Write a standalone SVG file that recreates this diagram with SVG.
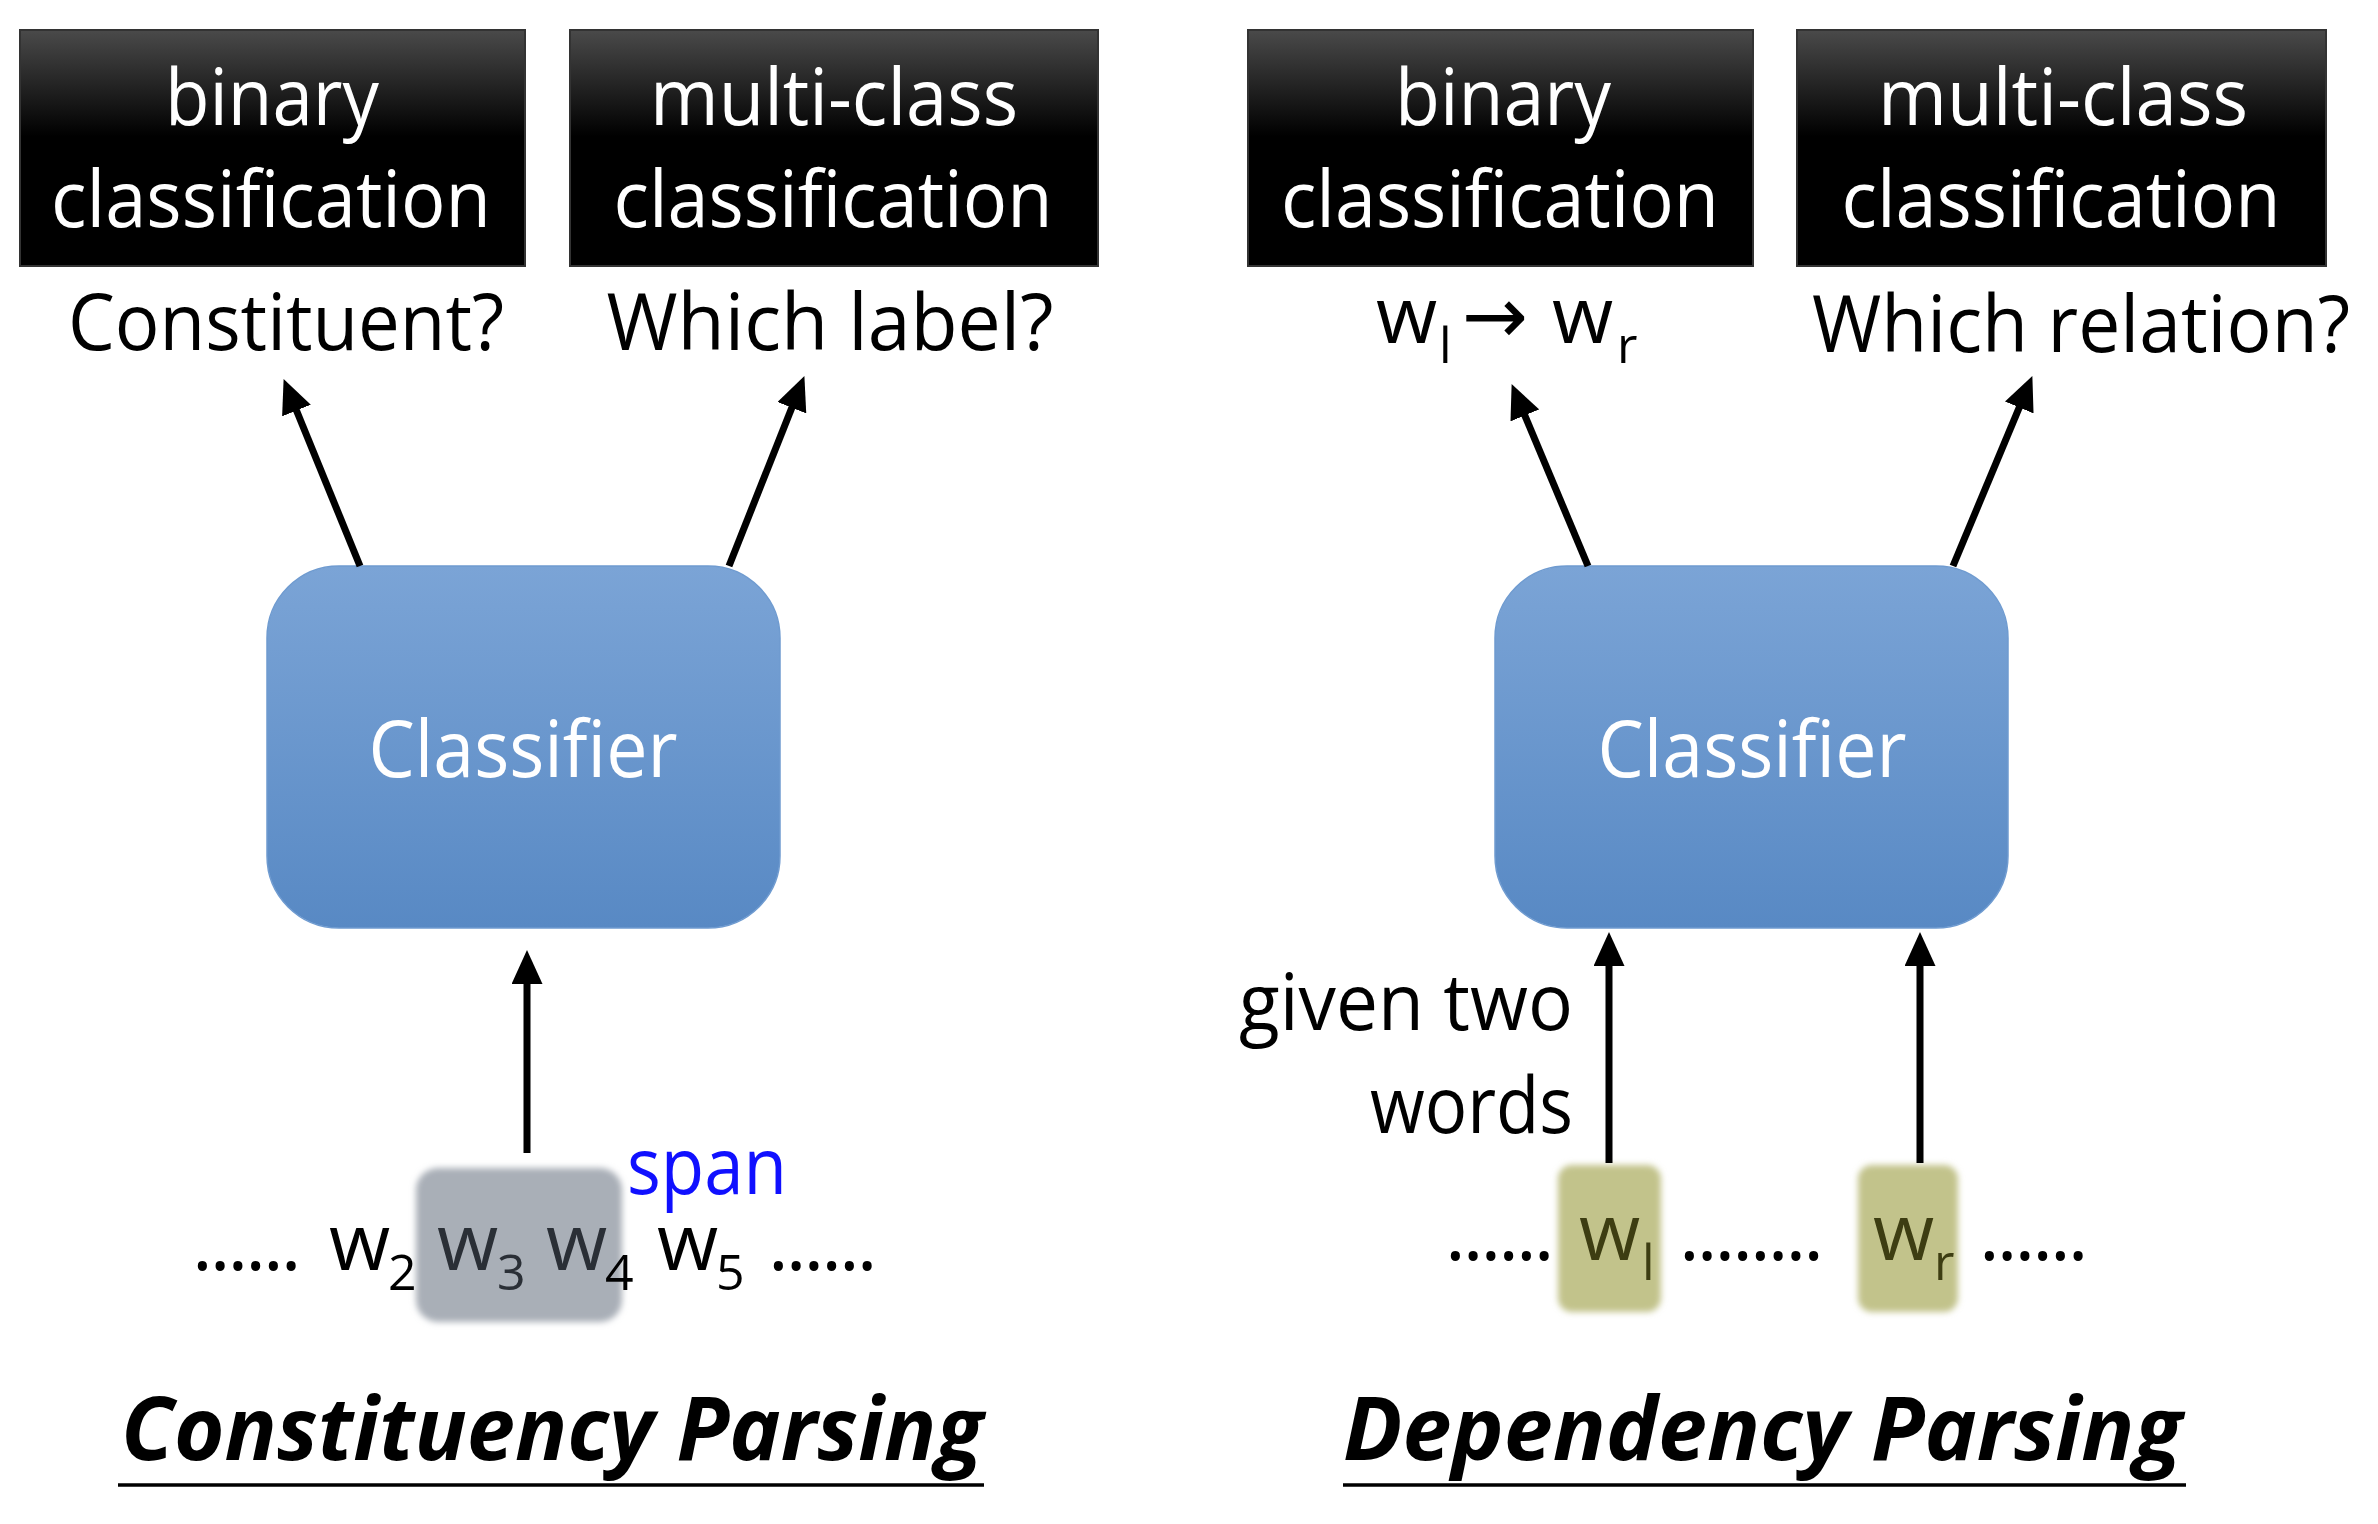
<svg xmlns="http://www.w3.org/2000/svg" width="2378" height="1524" viewBox="0 0 2378 1524">
<style>
  .t { font-family: "Open Sans", "DejaVu Sans", sans-serif; }
  .hdr { font-size: 78px; fill: #ffffff; text-anchor: middle; }
  .lbl { font-size: 79px; fill: #000000; }
  .cls { font-size: 79px; fill: #ffffff; text-anchor: middle; }
  .sub { font-size: 50px; }
  .title { font-family: "Open Sans", "DejaVu Sans", sans-serif; font-size: 88px; font-weight: bold; font-style: italic; fill: #000; }
  .conn { stroke: #000; stroke-width: 7; fill: none; marker-end: url(#ah); }
  .dots { letter-spacing: -3px; }
</style>
<defs>
  <linearGradient id="blk" x1="0" y1="0" x2="0" y2="1">
    <stop offset="0" stop-color="#4a4a4a"/>
    <stop offset="0.45" stop-color="#000000"/>
    <stop offset="1" stop-color="#000000"/>
  </linearGradient>
  <linearGradient id="blue" x1="0" y1="0" x2="0" y2="1">
    <stop offset="0" stop-color="#7ba4d6"/>
    <stop offset="1" stop-color="#5889c4"/>
  </linearGradient>
  <filter id="soft" x="-20%" y="-20%" width="140%" height="140%">
    <feGaussianBlur stdDeviation="3"/>
  </filter>
  <marker id="ah" markerUnits="userSpaceOnUse" markerWidth="34" markerHeight="31" viewBox="0 0 34 31" refX="24" refY="15.5" orient="auto">
    <path d="M0,0 L34,15.5 L0,31 z" fill="#000"/>
  </marker>
</defs>
<rect width="2378" height="1524" fill="#ffffff"/>

<!-- Constituency side -->
<g id="c-binary">
  <rect x="20" y="30" width="505" height="236" fill="url(#blk)" stroke="#333" stroke-width="2"/>
  <text class="t hdr" x="272" y="125" textLength="214" lengthAdjust="spacingAndGlyphs">binary</text>
  <text class="t hdr" x="271" y="227" textLength="440" lengthAdjust="spacingAndGlyphs">classification</text>
</g>
<g id="c-multi">
  <rect x="570" y="30" width="528" height="236" fill="url(#blk)" stroke="#333" stroke-width="2"/>
  <text class="t hdr" x="834" y="125" textLength="368" lengthAdjust="spacingAndGlyphs">multi-class</text>
  <text class="t hdr" x="833" y="227" textLength="439" lengthAdjust="spacingAndGlyphs">classification</text>
</g>
<g id="c-constituent-q">
  <text class="t lbl" x="286" y="350" text-anchor="middle" textLength="436" lengthAdjust="spacingAndGlyphs">Constituent?</text>
</g>
<g id="c-label-q">
  <text class="t lbl" x="830" y="350" text-anchor="middle" textLength="447" lengthAdjust="spacingAndGlyphs">Which label?</text>
</g>
<g id="c-classifier">
  <rect x="267" y="566" width="513" height="362" rx="72" ry="72" fill="url(#blue)" stroke="#6f9bd0" stroke-width="1.5"/>
  <text class="t cls" x="523" y="777" textLength="309" lengthAdjust="spacingAndGlyphs">Classifier</text>
</g>
<g id="c-span">
  <rect x="416" y="1168" width="206" height="154" rx="22" ry="22" fill="#a9afb7" filter="url(#soft)"/>
  <text class="t" x="627" y="1194" font-size="79" fill="#1010ff" textLength="160" lengthAdjust="spacingAndGlyphs">span</text>
</g>
<g id="c-words">
  <text class="t lbl"><tspan class="dots" x="192" y="1270">......</tspan><tspan x="329" y="1270">w</tspan><tspan class="sub" x="388" y="1290">2</tspan><tspan x="437" y="1270" fill="#2a2f36">w</tspan><tspan class="sub" x="497" y="1290" fill="#2a2f36">3</tspan><tspan x="546" y="1270" fill="#2a2f36">w</tspan><tspan class="sub" x="605" y="1290">4</tspan><tspan x="657" y="1270">w</tspan><tspan class="sub" x="716" y="1290">5</tspan><tspan class="dots" x="768" y="1270">......</tspan></text>
</g>
<g id="c-title">
  <text class="title" x="121" y="1460" textLength="862" lengthAdjust="spacingAndGlyphs">Constituency Parsing</text>
  <line x1="118" y1="1485" x2="984" y2="1485" stroke="#000" stroke-width="3.5"/>
</g>

<!-- Dependency side -->
<g id="d-binary">
  <rect x="1248" y="30" width="505" height="236" fill="url(#blk)" stroke="#333" stroke-width="2"/>
  <text class="t hdr" x="1503" y="125" textLength="216" lengthAdjust="spacingAndGlyphs">binary</text>
  <text class="t hdr" x="1500" y="227" textLength="438" lengthAdjust="spacingAndGlyphs">classification</text>
</g>
<g id="d-multi">
  <rect x="1797" y="30" width="529" height="236" fill="url(#blk)" stroke="#333" stroke-width="2"/>
  <text class="t hdr" x="2063" y="125" textLength="370" lengthAdjust="spacingAndGlyphs">multi-class</text>
  <text class="t hdr" x="2061" y="227" textLength="439" lengthAdjust="spacingAndGlyphs">classification</text>
</g>
<g id="d-arc-q">
  <text class="t lbl"><tspan x="1376" y="343">w</tspan><tspan class="sub" x="1439" y="363">l</tspan><tspan x="1462" y="343">→</tspan><tspan x="1552" y="343">w</tspan><tspan class="sub" x="1617" y="363">r</tspan></text>
</g>
<g id="d-relation-q">
  <text class="t lbl" x="2081" y="352" text-anchor="middle" textLength="538" lengthAdjust="spacingAndGlyphs">Which relation?</text>
</g>
<g id="d-classifier">
  <rect x="1495" y="566" width="513" height="362" rx="72" ry="72" fill="url(#blue)" stroke="#6f9bd0" stroke-width="1.5"/>
  <text class="t cls" x="1752" y="777" textLength="309" lengthAdjust="spacingAndGlyphs">Classifier</text>
</g>
<g id="d-given">
  <text class="t lbl" x="1573" y="1030" text-anchor="end" textLength="334" lengthAdjust="spacingAndGlyphs">given two</text>
  <text class="t lbl" x="1573" y="1133" text-anchor="end" textLength="203" lengthAdjust="spacingAndGlyphs">words</text>
</g>
<g id="d-wl">
  <rect x="1558" y="1165" width="103" height="147" rx="14" ry="14" fill="#c2c38b" filter="url(#soft)"/>
</g>
<g id="d-wr">
  <rect x="1858" y="1165" width="100" height="147" rx="14" ry="14" fill="#c2c38b" filter="url(#soft)"/>
</g>
<g id="d-words">
  <text class="t lbl"><tspan class="dots" x="1445" y="1260">......</tspan><tspan x="1579" y="1260" fill="#3d3d12">w</tspan><tspan class="sub" x="1642" y="1280" fill="#3d3d12">l</tspan><tspan class="dots" x="1679" y="1260">........</tspan><tspan x="1873" y="1260" fill="#3d3d12">w</tspan><tspan class="sub" x="1934" y="1280" fill="#3d3d12">r</tspan><tspan class="dots" x="1979" y="1260">......</tspan></text>
</g>
<g id="d-title">
  <text class="title" x="1343" y="1460" textLength="839" lengthAdjust="spacingAndGlyphs">Dependency Parsing</text>
  <line x1="1343" y1="1485" x2="2186" y2="1485" stroke="#000" stroke-width="3.5"/>
</g>

<g id="connectors">
  <line class="conn" x1="360" y1="566" x2="287.4" y2="388.3"/>
  <line class="conn" x1="729" y1="566" x2="800.7" y2="385.4"/>
  <line class="conn" x1="527" y1="1153" x2="527" y2="960"/>
  <line class="conn" x1="1588" y1="566" x2="1515.5" y2="393.3"/>
  <line class="conn" x1="1953" y1="566" x2="2028.5" y2="385.3"/>
  <line class="conn" x1="1609" y1="1163" x2="1609" y2="942"/>
  <line class="conn" x1="1920" y1="1163" x2="1920" y2="942"/>
</g>
</svg>
